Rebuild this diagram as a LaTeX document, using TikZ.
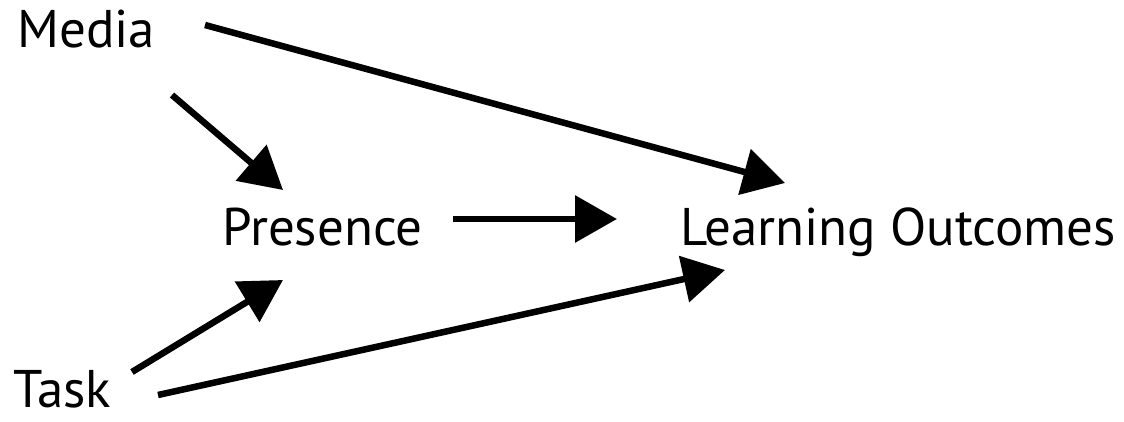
\documentclass[tikz,border=0pt]{standalone}
\usepackage{fontspec}
\setmainfont{PT Sans}
\usetikzlibrary{arrows.meta}
\begin{document}
\begin{tikzpicture}[x=1pt,y=-1pt,
  lbl/.style={anchor=base west, inner sep=0pt, font=\fontsize{53}{60}\selectfont},
  arr/.style={line width=6.5pt, -{Triangle[length=42pt,width=46pt]}}]
\useasboundingbox (0,0) rectangle (1124,421);
\node[lbl] (media) at (17,47) {Media};
\node[lbl] (pres) at (222,245) {Presence};
\node[lbl] (lo) at (680,245) {Learning Outcomes};
\node[lbl] (task) at (13,407) {Task};
\coordinate (m1) at (205,25);
\coordinate (lo1) at (785,183);
\coordinate (m2) at (172,95);
\coordinate (p1) at (283,190);
\coordinate (p2) at (453,219);
\coordinate (lo2) at (617,219);
\coordinate (t1) at (132,372);
\coordinate (p3) at (283,280);
\coordinate (t2) at (158,395);
\coordinate (lo3) at (725,270);
\draw[arr] (m1) -- (lo1);
\draw[arr] (m2) -- (p1);
\draw[arr] (p2) -- (lo2);
\draw[arr] (t1) -- (p3);
\draw[arr] (t2) -- (lo3);
\end{tikzpicture}
\end{document}
